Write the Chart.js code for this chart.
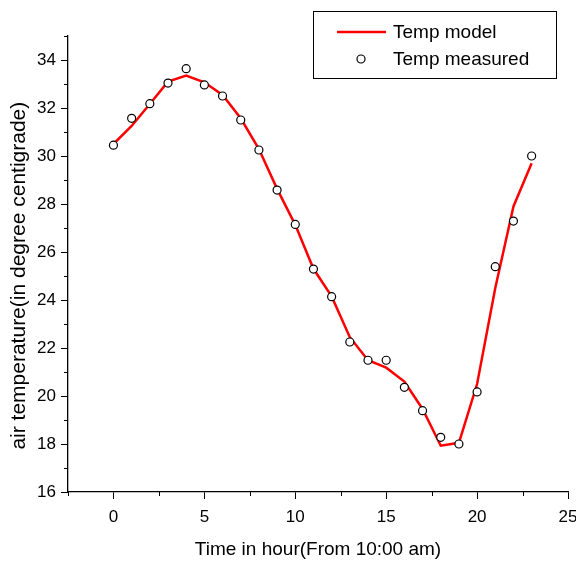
<!DOCTYPE html>
<html>
<head>
<meta charset="utf-8">
<script src="https://cdn.jsdelivr.net/npm/chart.js@4/dist/chart.umd.min.js"></script>
<style>
  body { margin: 0; background: #fff; }
  #wrap { width: 576px; height: 562px; }
</style>
</head>
<body>
<div id="wrap"><canvas id="tempChart"></canvas></div>
<script>
// Datos
const hours = [0, 1, 2, 3, 4, 5, 6, 7, 8, 9, 10, 11, 12, 13, 14, 15, 16, 17, 18, 19, 20, 21, 22, 23];
const modelTemp = [30.5, 31.25, 32.17, 33.1, 33.35, 33.07, 32.54, 31.57, 30.29, 28.63, 27.13, 25.3,
                   24.15, 22.45, 21.49, 21.18, 20.6, 19.46, 17.93, 18.05, 20.5, 24.5, 27.9, 29.7];
const measuredTemp = [30.45, 31.57, 32.18, 33.04, 33.64, 32.96, 32.5, 31.5, 30.25, 28.58, 27.15, 25.29,
                      24.14, 22.25, 21.49, 21.49, 20.36, 19.39, 18.28, 18.0, 20.17, 25.39, 27.29, 30.0];
const xTicks = [0, 5, 10, 15, 20, 25];
const xMinorTicks = [-2.5, 2.5, 7.5, 12.5, 17.5, 22.5];
const yTicks = [16, 18, 20, 22, 24, 26, 28, 30, 32, 34];
const yMinorTicks = [17, 19, 21, 23, 25, 27, 29, 31, 33, 35];

const FONT = '"Liberation Sans", Arial, sans-serif';

// Ticks menores (la libreria no los dibuja)
const minorTicksPlugin = {
  id: 'minorTicks',
  afterDraw(chart) {
    const c = chart.ctx;
    const xs = chart.scales.x;
    const ys = chart.scales.y;
    c.save();
    c.strokeStyle = '#000';
    c.lineWidth = 1;
    xMinorTicks.forEach(v => {
      const px = Math.round(xs.getPixelForValue(v)) + 0.5;
      c.beginPath();
      c.moveTo(px, xs.top);
      c.lineTo(px, xs.top + 4);
      c.stroke();
    });
    yMinorTicks.forEach(v => {
      const py = Math.round(ys.getPixelForValue(v)) + 0.5;
      c.beginPath();
      c.moveTo(ys.right, py);
      c.lineTo(ys.right - 4, py);
      c.stroke();
    });
    c.restore();
  }
};

// Leyenda con recuadro
const boxLegendPlugin = {
  id: 'boxLegend',
  afterDraw(chart) {
    const c = chart.ctx;
    const ds = chart.data.datasets;
    c.save();
    c.strokeStyle = '#000';
    c.lineWidth = 1;
    c.strokeRect(313.5, 11.5, 243, 67);

    c.strokeStyle = ds[0].borderColor;
    c.lineWidth = 2.5;
    c.beginPath();
    c.moveTo(337, 32);
    c.lineTo(386, 32);
    c.stroke();

    c.beginPath();
    c.arc(361, 59, 4, 0, Math.PI * 2);
    c.fillStyle = '#fff';
    c.fill();
    c.strokeStyle = '#000';
    c.lineWidth = 1.2;
    c.stroke();

    c.fillStyle = '#000';
    c.font = '19px ' + FONT;
    c.textBaseline = 'middle';
    c.fillText(ds[0].label, 393, 33);
    c.fillText(ds[1].label, 393, 60);
    c.restore();
  }
};

const ctx = document.getElementById('tempChart').getContext('2d');
const chart = new Chart(ctx, {
  type: 'scatter',
  data: {
    datasets: [{
      label: 'Temp model',
      data: hours.map((h, i) => ({ x: h, y: modelTemp[i] })),
      showLine: true,
      borderColor: '#ff0000',
      borderWidth: 2.5,
      pointRadius: 0,
      fill: false,
      order: 2
    }, {
      label: 'Temp measured',
      data: hours.map((h, i) => ({ x: h, y: measuredTemp[i] })),
      showLine: false,
      pointRadius: 4,
      pointBorderWidth: 1.2,
      pointBorderColor: '#000',
      pointBackgroundColor: '#fff',
      order: 1
    }]
  },
  options: {
    responsive: true,
    maintainAspectRatio: false,
    animation: false,
    layout: { padding: { top: 36, right: 8, left: 0, bottom: 0 } },
    plugins: {
      legend: { display: false },
      tooltip: { enabled: false }
    },
    scales: {
      x: {
        type: 'linear',
        min: -2.5,
        max: 25,
        afterBuildTicks: s => { s.ticks = xTicks.map(v => ({ value: v })); },
        afterFit: s => { s.height = 70; s.paddingLeft = 0; s.paddingRight = 0; },
        grid: { drawOnChartArea: false, drawTicks: true, tickLength: 7, color: '#000', lineWidth: 1 },
        border: { display: true, color: '#000', width: 1.3 },
        ticks: { color: '#000', font: { family: FONT, size: 17 }, padding: 8, maxRotation: 0 },
        title: {
          display: true,
          text: 'Time in hour(From 10:00 am)',
          color: '#000',
          font: { family: FONT, size: 19 },
          padding: { top: 1, bottom: 1 }
        }
      },
      y: {
        type: 'linear',
        min: 16,
        max: 35,
        afterBuildTicks: s => { s.ticks = yTicks.map(v => ({ value: v })); },
        afterFit: s => { s.width = 68; s.paddingTop = 0; s.paddingBottom = 0; },
        grid: { drawOnChartArea: false, drawTicks: true, tickLength: 7, color: '#000', lineWidth: 1 },
        border: { display: true, color: '#000', width: 1.3 },
        ticks: { color: '#000', font: { family: FONT, size: 17 }, padding: 5 },
        title: {
          display: true,
          text: 'air temperature(in degree centigrade)    ',
          color: '#000',
          font: { family: FONT, size: 21 },
          padding: { top: 7, bottom: 7 }
        }
      }
    }
  },
  plugins: [minorTicksPlugin, boxLegendPlugin]
});
</script>
</body>
</html>
